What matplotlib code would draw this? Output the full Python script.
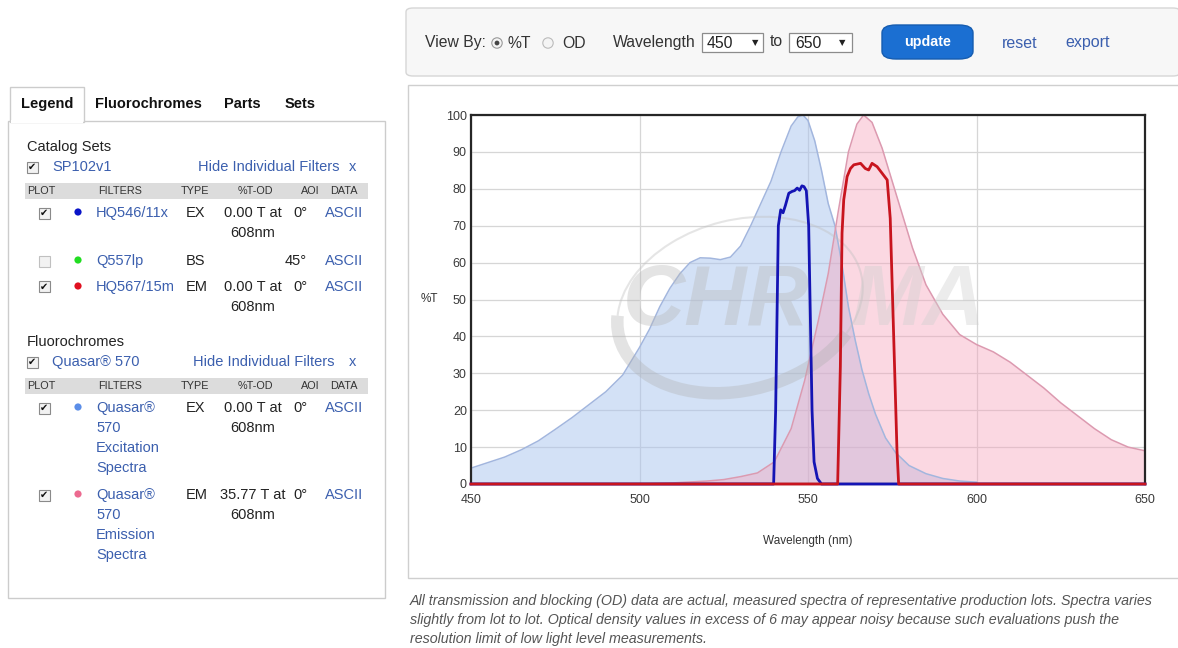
import matplotlib
matplotlib.use("Agg")
import matplotlib.pyplot as plt
from matplotlib.patches import Rectangle, FancyBboxPatch, Ellipse, Arc
from matplotlib import font_manager

# spectra (wavelength nm, %T)
ex_wl = [450, 455, 460, 465, 470, 475, 480, 485, 490, 495, 500, 503, 506, 509, 512, 515,
         518, 521, 524, 527, 530, 533, 536, 539, 542, 545, 547, 548.5, 550, 552, 554, 556,
         558, 560, 562, 564, 566, 568, 570, 573, 576, 580, 585, 590, 595, 600]
ex_t = [4.3, 5.8, 7.3, 9.3, 11.7, 14.8, 18, 21.5, 25, 29.5, 37, 42, 48, 53, 57, 60,
        61.3, 61.2, 60.8, 61.5, 64.5, 70, 76, 82, 90, 97, 99.5, 100, 98.5, 93, 85, 76,
        70, 60, 48, 39, 31, 24.5, 19, 12.5, 8.5, 5, 2.8, 1.5, 0.8, 0.5]

em_wl = [500, 510, 520, 525, 530, 535, 540, 545, 549, 553, 556, 559, 562, 564.5, 566.5,
         569, 572, 575, 578, 581, 585, 590, 595, 600, 605, 610, 615, 620, 625, 630, 635,
         640, 645, 650]
em_t = [0, 0.3, 0.8, 1.2, 2, 3, 6, 15, 28, 44, 57, 74, 90, 97.5, 100,
        98, 91, 82, 73, 64, 54, 46, 40.5, 37.8, 35.8, 33, 29.5, 26, 22, 18.5, 15,
        12, 10, 9]

hq546_wl = [450, 539.8, 540.4, 541.2, 541.9, 542.6, 543.3, 544.3, 545.3, 546, 546.8, 547.5,
            548.2, 548.8, 549.5, 550.2, 550.7, 551.2, 551.8, 552.8, 554, 650]
hq546_t = [0, 0, 20, 70, 74.3, 73.5, 75.5, 78.8, 79.3, 79.5, 80.2, 79.6,
           80.8, 80.6, 79.5, 70, 45, 20, 6, 1.5, 0, 0]

hq567_wl = [450, 558.8, 559.6, 560.1, 560.6, 561.6, 562.6, 563.6, 565.6, 567, 568, 569,
            570.5, 572, 573.5, 574.4, 575.4, 576.4, 576.9, 650]
hq567_t = [0, 0, 31.8, 68, 77, 83.3, 85.5, 86.5, 86.9, 85.5, 85.1, 86.9,
           86, 84.2, 82.4, 72, 40.8, 9.2, 0, 0]

x_ticks = [450, 500, 550, 600, 650]
y_ticks = list(range(0, 101, 10))

tabs = ["Legend", "Fluorochromes", "Parts", "Sets"]
table_header = ["PLOT", "FILTERS", "TYPE", "%T-OD", "AOI", "DATA"]
catalog_rows = [
    ("HQ546/11x", "EX", "0.00 T at\n608nm", "0°", True, "#0a14c8"),
    ("Q557lp", "BS", "", "45°", False, "#22dd22"),
    ("HQ567/15m", "EM", "0.00 T at\n608nm", "0°", True, "#e01020"),
]
fluor_rows = [
    ("Quasar®\n570\nExcitation\nSpectra", "EX", "0.00 T at\n608nm", "0°", True, "#5b8ee8"),
    ("Quasar®\n570\nEmission\nSpectra", "EM", "35.77 T at\n608nm", "0°", True, "#ec6a90"),
]
footnote = ["All transmission and blocking (OD) data are actual, measured spectra of representative production lots. Spectra varies",
            "slightly from lot to lot. Optical density values in excess of 6 may appear noisy because such evaluations push the",
            "resolution limit of low light level measurements."]

W, H = 1178, 648
plt.rcParams['font.family'] = ['Liberation Sans', 'DejaVu Sans']
LINK = "#3b5fae"
DARK = "#222222"
BODY = 10.5
BAR = 11.3

try:
    font_manager.findfont("Liberation Sans Narrow", fallback_to_default=False)
    narrow = ["Liberation Sans Narrow", "DejaVu Sans"]
    note_size = 12.4
except Exception:
    narrow = ["Liberation Sans", "DejaVu Sans"]
    note_size = 10.25

fig = plt.figure(figsize=(W / 100, H / 100), dpi=100)
fig.patch.set_facecolor("white")


def fx(x):
    return x / W


def fy(y):
    return 1 - y / H


def txt(x, y, s, **kw):
    kw.setdefault("va", "center")
    kw.setdefault("color", DARK)
    kw.setdefault("fontsize", BODY)
    fig.text(fx(x), fy(y), s, **kw)


def rect(x0, y0, x1, y1, **kw):
    fig.add_artist(Rectangle((fx(x0), fy(y1)), (x1 - x0) / W, (y1 - y0) / H,
                             transform=fig.transFigure, **kw))


def dot(x, y, r, **kw):
    fig.add_artist(Ellipse((fx(x), fy(y)), 2 * r / W, 2 * r / H,
                           transform=fig.transFigure, **kw))


def checkbox(x, y, checked):
    rect(x - 5.5, y - 5.5, x + 5.5, y + 5.5, facecolor="#f2f2f2",
         edgecolor="#8a8a8a" if checked else "#c0c0c0", lw=0.8)
    if checked:
        txt(x, y, "✔", ha="center", fontsize=7, family="DejaVu Sans", color="#111111")


# ---------- toolbar ----------
fig.add_artist(FancyBboxPatch((fx(406), fy(76)), (1180 - 406) / W, 68 / H,
                              boxstyle="round,pad=0,rounding_size=0.006",
                              transform=fig.transFigure, facecolor="#f7f7f7",
                              edgecolor="#d6d6d6", lw=1))
txt(425, 43, "View By:", color="#333333", fontsize=BAR)
dot(497, 43, 5.2, facecolor="#f4f4f4", edgecolor="#999999", lw=0.8)
dot(497, 43, 2.4, facecolor="#444444", edgecolor="none")
txt(508, 43, "%T", color="#333333", fontsize=BAR)
dot(548, 43, 5.2, facecolor="#f4f4f4", edgecolor="#bbbbbb", lw=0.8)
txt(562, 43, "OD", color="#333333", fontsize=BAR)
txt(613, 42, "Wavelength", color="#333333", fontsize=BAR)
rect(702, 33, 763, 52, facecolor="white", edgecolor="#8c8c8c", lw=0.9)
txt(707, 43, "450", color="#222222", fontsize=BAR)
txt(752, 43, "▼", fontsize=6, family="DejaVu Sans", color="#222222")
txt(770, 42, "to", color="#333333", fontsize=BAR)
rect(789, 33, 852, 52, facecolor="white", edgecolor="#8c8c8c", lw=0.9)
txt(795, 43, "650", color="#222222", fontsize=BAR)
txt(839, 43, "▼", fontsize=6, family="DejaVu Sans", color="#222222")
fig.add_artist(FancyBboxPatch((fx(882), fy(59)), 91 / W, 34 / H,
                              boxstyle="round,pad=0,rounding_size=0.012",
                              transform=fig.transFigure, facecolor="#1b6fd2",
                              edgecolor="#155cb0", lw=1))
txt(928, 42, "update", ha="center", color="white", fontweight="bold", fontsize=10.3)
txt(1002, 43, "reset", color=LINK, fontsize=11.5)
txt(1065, 43, "export", color=LINK, fontsize=11.5)

# ---------- chart panel ----------
rect(408, 85, 1185, 578, facecolor="white", edgecolor="#cfcfcf", lw=1)

ax = fig.add_axes([fx(471), fy(484), (1145 - 471) / W, (484 - 115) / H])
ax.set_zorder(2)
ax.set_xlim(450, 650)
ax.set_ylim(0, 100)

ax.fill_between(ex_wl, ex_t, color="#a9c4ee", alpha=0.5, lw=0, zorder=1)
ax.plot(ex_wl, ex_t, color="#a2b6de", lw=1.1, zorder=2)
ax.fill_between(em_wl, em_t, color="#f7a3bb", alpha=0.42, lw=0, zorder=1)
ax.plot(em_wl, em_t, color="#dc9ab0", lw=1.1, zorder=2)

# watermark
ax.text(0.225, 0.49, "CHR", transform=ax.transAxes, fontsize=62, fontweight="bold",
        style="italic", color="#b8b8b8", alpha=0.38, ha="left", va="center", zorder=3)
ax.text(0.565, 0.49, "MA", transform=ax.transAxes, fontsize=62, fontweight="bold",
        style="italic", color="#d0d0d0", alpha=0.4, ha="left", va="center", zorder=3)
ax.add_patch(Arc((7.40, (H - 305) / 100), 2.5, 1.7, angle=15, theta1=170, theta2=330,
                 lw=9, color="#b0b0b0", alpha=0.35, transform=fig.dpi_scale_trans, zorder=3))
ax.add_patch(Arc((7.40, (H - 305) / 100), 2.5, 1.7, angle=15, theta1=330, theta2=530,
                 lw=1.5, color="#c0c0c0", alpha=0.4, transform=fig.dpi_scale_trans, zorder=3))

ax.plot(hq546_wl, hq546_t, color="#1414b4", lw=2, zorder=5, clip_on=False)
ax.plot(hq567_wl, hq567_t, color="#c8141e", lw=2, zorder=6, clip_on=False)

ax.set_xticks(x_ticks)
ax.set_yticks(y_ticks)
ax.tick_params(length=0, labelsize=9, labelcolor="#3a3a3a")
ax.tick_params(axis="y", pad=3)
ax.tick_params(axis="x", pad=7)
ax.grid(True, color="#d6d6d6", lw=0.9, zorder=0)
ax.set_axisbelow(True)
for s in ax.spines.values():
    s.set_color("#262626")
    s.set_linewidth(1.6)
ax.set_ylabel("%T", rotation=0, fontsize=8.5, color="#333333", labelpad=12, va="center")
ax.set_xlabel("Wavelength (nm)", fontsize=8.5, color="#333333", labelpad=21)

for i, line in enumerate(footnote):
    txt(410, 601 + i * 19, line, style="italic", color="#555555", fontsize=note_size,
        family=narrow)

# ---------- left panel ----------
rect(8, 121, 385, 598, facecolor="white", edgecolor="#cccccc", lw=1)
rect(10, 87, 84, 121.5, facecolor="white", edgecolor="#cccccc", lw=1)
rect(10.8, 119.5, 83.2, 123, facecolor="white", edgecolor="none")
tab_x = [21, 95, 224, 285]
for x, t in zip(tab_x, tabs):
    txt(x, 104, t, fontweight="bold", fontsize=10.5, color="#111111")

col_x = [27, 98, 181, 238, 301, 330]


def section(title, ty, set_name, hide_x, hy, rows, row_ys):
    txt(27, ty, title)
    checkbox(32, ty + 20, True)
    txt(52, ty + 20, set_name, color=LINK)
    txt(hide_x, ty + 20, "Hide Individual Filters", color=LINK)
    txt(349, ty + 20, "x", color=LINK)
    rect(25, hy - 8, 368, hy + 8, facecolor="#dcdcdc", edgecolor="none")
    for x, h in zip(col_x, table_header):
        txt(x, hy, h, fontsize=7.8, color="#333333")
    for (name, typ, tod, aoi, chk, col), y in zip(rows, row_ys):
        checkbox(44, y, chk)
        dot(78, y - 1, 3.6, facecolor=col, edgecolor="none")
        for i, part in enumerate(name.split("\n")):
            txt(96, y + i * 20, part, color=LINK)
        txt(186, y, typ)
        for i, part in enumerate(tod.split("\n") if tod else []):
            txt(253, y + i * 20, part, ha="center")
        txt(307, y, aoi, ha="right")
        txt(325, y, "ASCII", color=LINK)


section("Catalog Sets", 147, "SP102v1", 198, 191, catalog_rows, [213, 261, 287])
section("Fluorochromes", 342, "Quasar® 570", 193, 386, fluor_rows, [408, 495])

fig.savefig("out.png", dpi=100, facecolor="white")
